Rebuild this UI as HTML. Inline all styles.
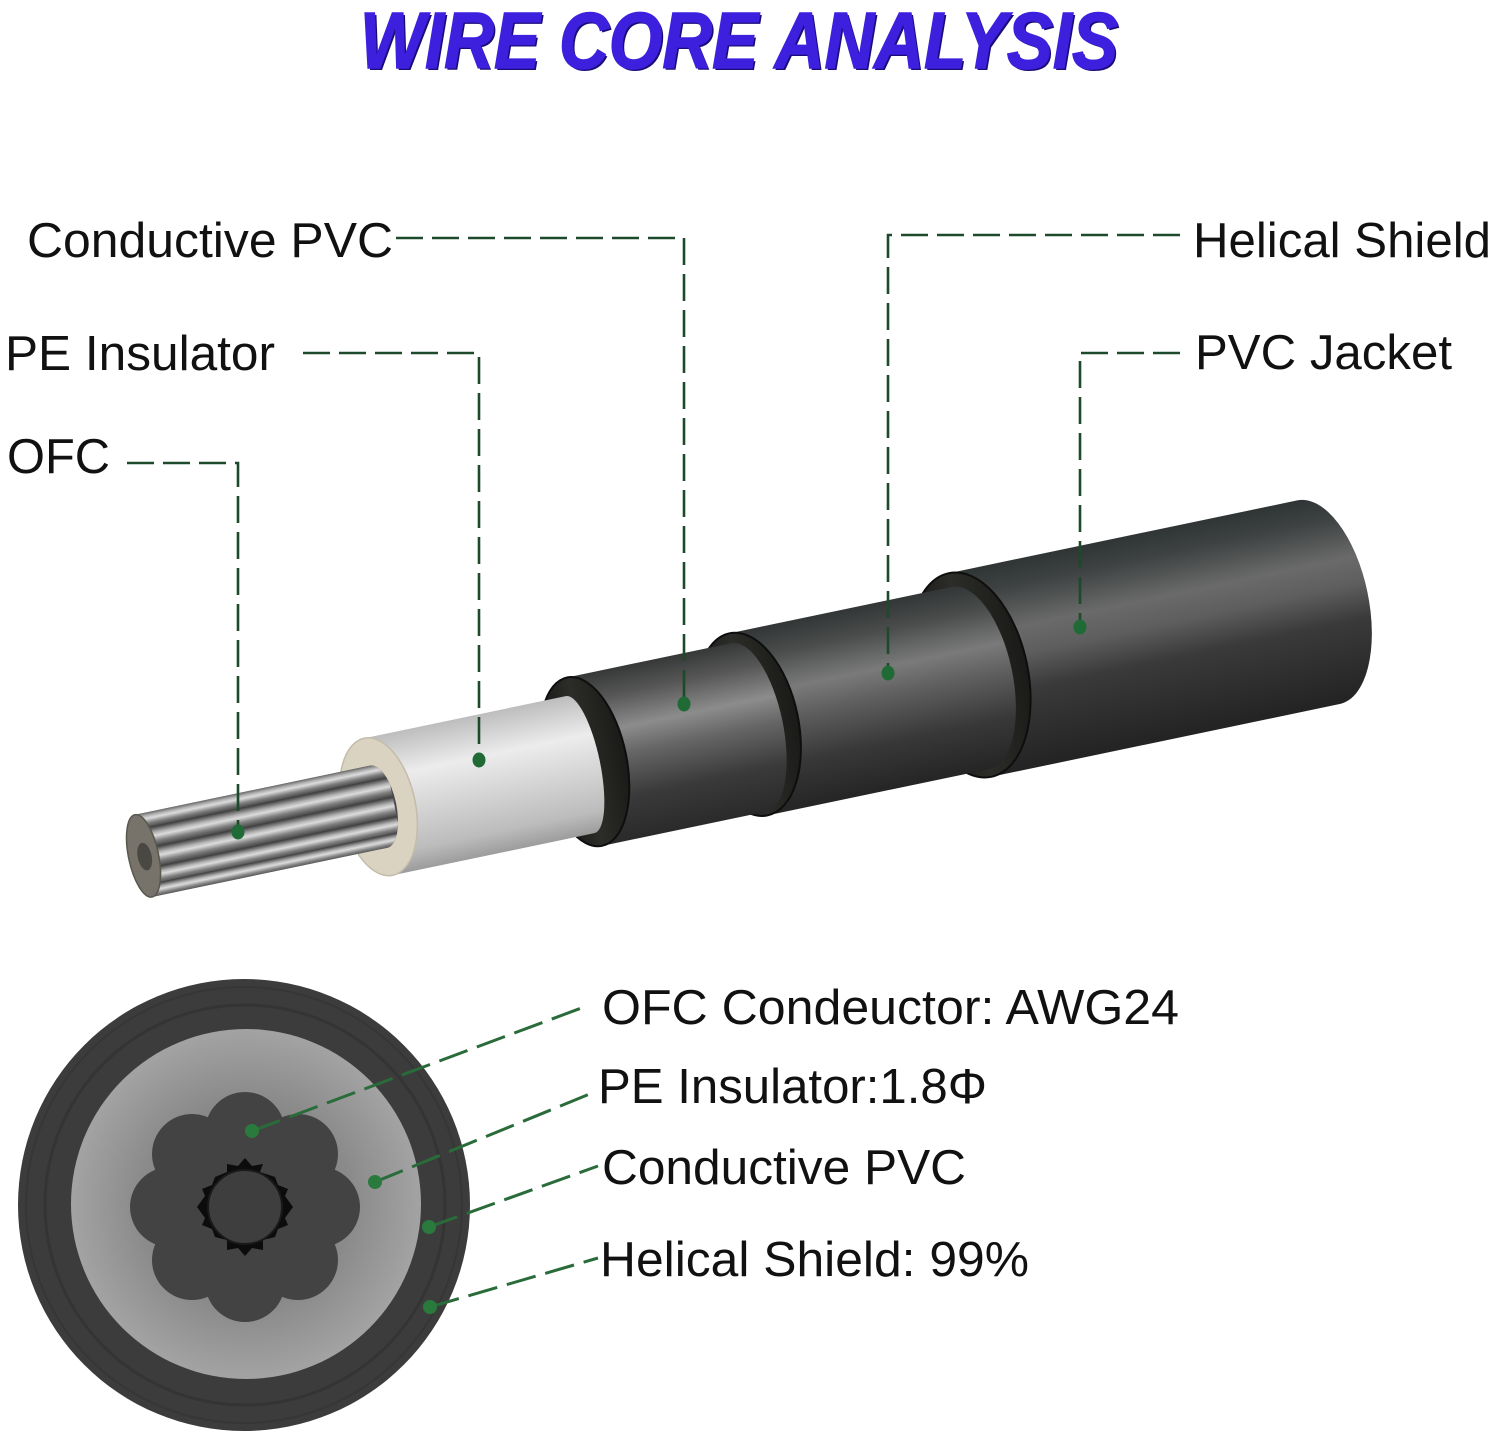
<!DOCTYPE html>
<html>
<head>
<meta charset="utf-8">
<style>
html,body{margin:0;padding:0;background:#fff;}
svg{display:block;}
</style>
</head>
<body>
<svg width="1500" height="1437" viewBox="0 0 1500 1437" xmlns="http://www.w3.org/2000/svg">
<defs>
  <linearGradient id="gJ" x1="0" y1="0" x2="0" y2="1">
    <stop offset="0" stop-color="#2f3434"/>
    <stop offset="0.12" stop-color="#3e4242"/>
    <stop offset="0.32" stop-color="#6a6a6a"/>
    <stop offset="0.45" stop-color="#5e5e5e"/>
    <stop offset="0.62" stop-color="#3a3a3a"/>
    <stop offset="1" stop-color="#232323"/>
  </linearGradient>
  <linearGradient id="gH" x1="0" y1="0" x2="0" y2="1">
    <stop offset="0" stop-color="#333636"/>
    <stop offset="0.15" stop-color="#4a4c4c"/>
    <stop offset="0.35" stop-color="#7a7a7a"/>
    <stop offset="0.5" stop-color="#5f5f5f"/>
    <stop offset="0.75" stop-color="#383838"/>
    <stop offset="1" stop-color="#252525"/>
  </linearGradient>
  <linearGradient id="gC" x1="0" y1="0" x2="0" y2="1">
    <stop offset="0" stop-color="#363838"/>
    <stop offset="0.15" stop-color="#555"/>
    <stop offset="0.35" stop-color="#8c8c8c"/>
    <stop offset="0.5" stop-color="#666"/>
    <stop offset="0.75" stop-color="#3a3a3a"/>
    <stop offset="1" stop-color="#2a2a2a"/>
  </linearGradient>
  <linearGradient id="gP" x1="0" y1="0" x2="0" y2="1">
    <stop offset="0" stop-color="#bdbdbd"/>
    <stop offset="0.3" stop-color="#ececec"/>
    <stop offset="0.55" stop-color="#d6d6d6"/>
    <stop offset="0.85" stop-color="#bcbcbc"/>
    <stop offset="1" stop-color="#9c9c9c"/>
  </linearGradient>
  <linearGradient id="gS" x1="0" y1="0" x2="0" y2="1">
    <stop offset="0" stop-color="#3a3a3a"/>
    <stop offset="0.3" stop-color="#b5b5b5"/>
    <stop offset="0.45" stop-color="#dcdcdc"/>
    <stop offset="0.7" stop-color="#808080"/>
    <stop offset="1" stop-color="#3c3c3c"/>
  </linearGradient>
  <linearGradient id="gRing" x1="0" y1="0" x2="1" y2="0">
    <stop offset="0" stop-color="#121212"/>
    <stop offset="0.5" stop-color="#2c2c28"/>
    <stop offset="1" stop-color="#1a1a18"/>
  </linearGradient>
  <radialGradient id="gGray" cx="0.5" cy="0.5" r="0.5">
    <stop offset="0" stop-color="#6c6c6c"/>
    <stop offset="0.6" stop-color="#8a8a8a"/>
    <stop offset="1" stop-color="#a3a3a3"/>
  </radialGradient>
  <clipPath id="cond">
    <path d="M-846,-34 L-606,-34 A18,42 0 0 1 -606,50 L-846,50 A15,42 0 0 1 -846,-34 Z"/>
  </clipPath>
</defs>

<rect x="0" y="0" width="1500" height="1437" fill="#ffffff"/>

<!-- Title -->
<text x="362" y="70" font-family="Liberation Sans, sans-serif" font-weight="bold" font-style="italic" font-size="80" fill="#1a0c78" textLength="758" lengthAdjust="spacingAndGlyphs">WIRE CORE ANALYSIS</text>
<text x="360" y="68" font-family="Liberation Sans, sans-serif" font-weight="bold" font-style="italic" font-size="80" fill="#3c20dd" stroke="#3c20dd" stroke-width="1.5" textLength="758" lengthAdjust="spacingAndGlyphs">WIRE CORE ANALYSIS</text>

<!-- Cable -->
<g transform="translate(970 675) rotate(-11.8)">
  <!-- Jacket -->
  <path d="M0,-104 L356,-104 A50,104 0 0 1 356,104 L0,104 A58,104 0 0 1 0,-104 Z" fill="url(#gJ)"/>
  <ellipse cx="0" cy="0" rx="58" ry="104" fill="url(#gRing)" stroke="#0e0e0e" stroke-width="2"/>
  <!-- Helical shield -->
  <path d="M-227,-90 L0,-90 A42,93 0 0 1 0,96 L-227,96 A50,93 0 0 1 -227,-90 Z" fill="url(#gH)"/>
  <ellipse cx="-227" cy="3" rx="50" ry="93" fill="url(#gRing)" stroke="#0e0e0e" stroke-width="2"/>
  <!-- Conductive PVC -->
  <path d="M-395,-80 L-227,-80 A34,86 0 0 1 -227,92 L-395,92 A42,86 0 0 1 -395,-80 Z" fill="url(#gC)"/>
  <ellipse cx="-395" cy="6" rx="42" ry="86" fill="url(#gRing)" stroke="#0e0e0e" stroke-width="2"/>
  <!-- PE insulator -->
  <path d="M-606,-62 L-400,-62 A20,70 0 0 1 -400,78 L-606,78 A37,70 0 0 1 -606,-62 Z" fill="url(#gP)"/>
  <ellipse cx="-606" cy="8" rx="37" ry="70" fill="#dbd3c1" stroke="#c4bcaa" stroke-width="1.5"/>
  <!-- Conductor -->
  <path d="M-846,-34 L-606,-34 A18,42 0 0 1 -606,50 L-846,50 A15,42 0 0 1 -846,-34 Z" fill="#4a4a4a"/>
  <g clip-path="url(#cond)">
    <rect x="-850" y="-36" width="260" height="18" fill="url(#gS)"/>
    <rect x="-850" y="-19" width="260" height="21" fill="url(#gS)"/>
    <rect x="-850" y="1" width="260" height="21" fill="url(#gS)"/>
    <rect x="-850" y="21" width="260" height="18" fill="url(#gS)"/>
    <rect x="-850" y="37" width="260" height="15" fill="url(#gS)"/>
  </g>
  <ellipse cx="-846" cy="8" rx="15" ry="42" fill="#77736a" stroke="#5a574f" stroke-width="1.5"/>
  <ellipse cx="-845" cy="9" rx="7" ry="14" fill="#4a4842"/>
</g>

<!-- Top connectors -->
<g fill="none" stroke="#1d4a2a" stroke-width="2.6" stroke-dasharray="27 9">
  <path d="M396 238 H684 V700"/>
  <path d="M303 353 H479 V756"/>
  <path d="M127 463 H238 V828"/>
  <path d="M1180 235 H888 V669"/>
  <path d="M1180 353 H1080 V623"/>
</g>
<g fill="#1f6a35">
  <ellipse cx="684" cy="704" rx="6.5" ry="7.5"/>
  <ellipse cx="479" cy="760" rx="6.5" ry="7.5"/>
  <ellipse cx="238" cy="832" rx="6.5" ry="7.5"/>
  <ellipse cx="888" cy="673" rx="6.5" ry="7.5"/>
  <ellipse cx="1080" cy="627" rx="6.5" ry="7.5"/>
</g>

<!-- Top labels -->
<g font-family="Liberation Sans, sans-serif" font-size="49" fill="#111">
  <text x="27" y="257" textLength="366" lengthAdjust="spacingAndGlyphs">Conductive PVC</text>
  <text x="5" y="370" textLength="270" lengthAdjust="spacingAndGlyphs">PE Insulator</text>
  <text x="7" y="473" textLength="103" lengthAdjust="spacingAndGlyphs">OFC</text>
  <text x="1193" y="257" textLength="298" lengthAdjust="spacingAndGlyphs">Helical Shield</text>
  <text x="1195" y="369" textLength="257" lengthAdjust="spacingAndGlyphs">PVC Jacket</text>
</g>

<!-- Cross section -->
<circle cx="244" cy="1205" r="226" fill="#3c3c3c"/>
<circle cx="244" cy="1205" r="218" fill="none" stroke="#363636" stroke-width="2"/>
<circle cx="245" cy="1205" r="200" fill="none" stroke="#343434" stroke-width="3"/>
<circle cx="246" cy="1204" r="175" fill="url(#gGray)"/>
<g fill="#434343">
  <circle cx="245" cy="1207" r="80"/>
  <circle cx="245" cy="1132" r="40"/>
  <circle cx="298" cy="1154" r="40"/>
  <circle cx="320" cy="1207" r="40"/>
  <circle cx="298" cy="1260" r="40"/>
  <circle cx="245" cy="1282" r="40"/>
  <circle cx="192" cy="1260" r="40"/>
  <circle cx="170" cy="1207" r="40"/>
  <circle cx="192" cy="1154" r="40"/>
</g>
<polygon fill="#0c0c0c" points="263,1164 260,1172 275,1177 278,1185 288,1189 285,1196 293,1207 285,1218 288,1225 278,1229 275,1237 263,1240 263,1250 252,1248 245,1256 238,1248 227,1250 227,1240 215,1237 212,1229 202,1225 205,1218 197,1207 205,1196 202,1189 212,1185 215,1177 227,1172 227,1164 238,1166 245,1158 252,1166"/>
<circle cx="245" cy="1207" r="37" fill="#3e3e3e" stroke="#1a1a1a" stroke-width="2"/>

<!-- Bottom connectors -->
<g fill="none" stroke="#2a6b3a" stroke-width="3" stroke-dasharray="30 10">
  <path d="M252 1131 L584 1007"/>
  <path d="M375 1182 L597 1091"/>
  <path d="M429 1227 L598 1166"/>
  <path d="M430 1307 L598 1258"/>
</g>
<g fill="#2a7a3e">
  <circle cx="252" cy="1131" r="7"/>
  <circle cx="375" cy="1182" r="7"/>
  <circle cx="429" cy="1227" r="7"/>
  <circle cx="430" cy="1307" r="7"/>
</g>

<!-- Bottom labels -->
<g font-family="Liberation Sans, sans-serif" font-size="49" fill="#111">
  <text x="602" y="1024" textLength="577" lengthAdjust="spacingAndGlyphs">OFC Condeuctor: AWG24</text>
  <text x="598" y="1103" textLength="389" lengthAdjust="spacingAndGlyphs">PE Insulator:1.8Φ</text>
  <text x="602" y="1184" textLength="364" lengthAdjust="spacingAndGlyphs">Conductive PVC</text>
  <text x="600" y="1276" textLength="429" lengthAdjust="spacingAndGlyphs">Helical Shield: 99%</text>
</g>
</svg>
</body>
</html>
